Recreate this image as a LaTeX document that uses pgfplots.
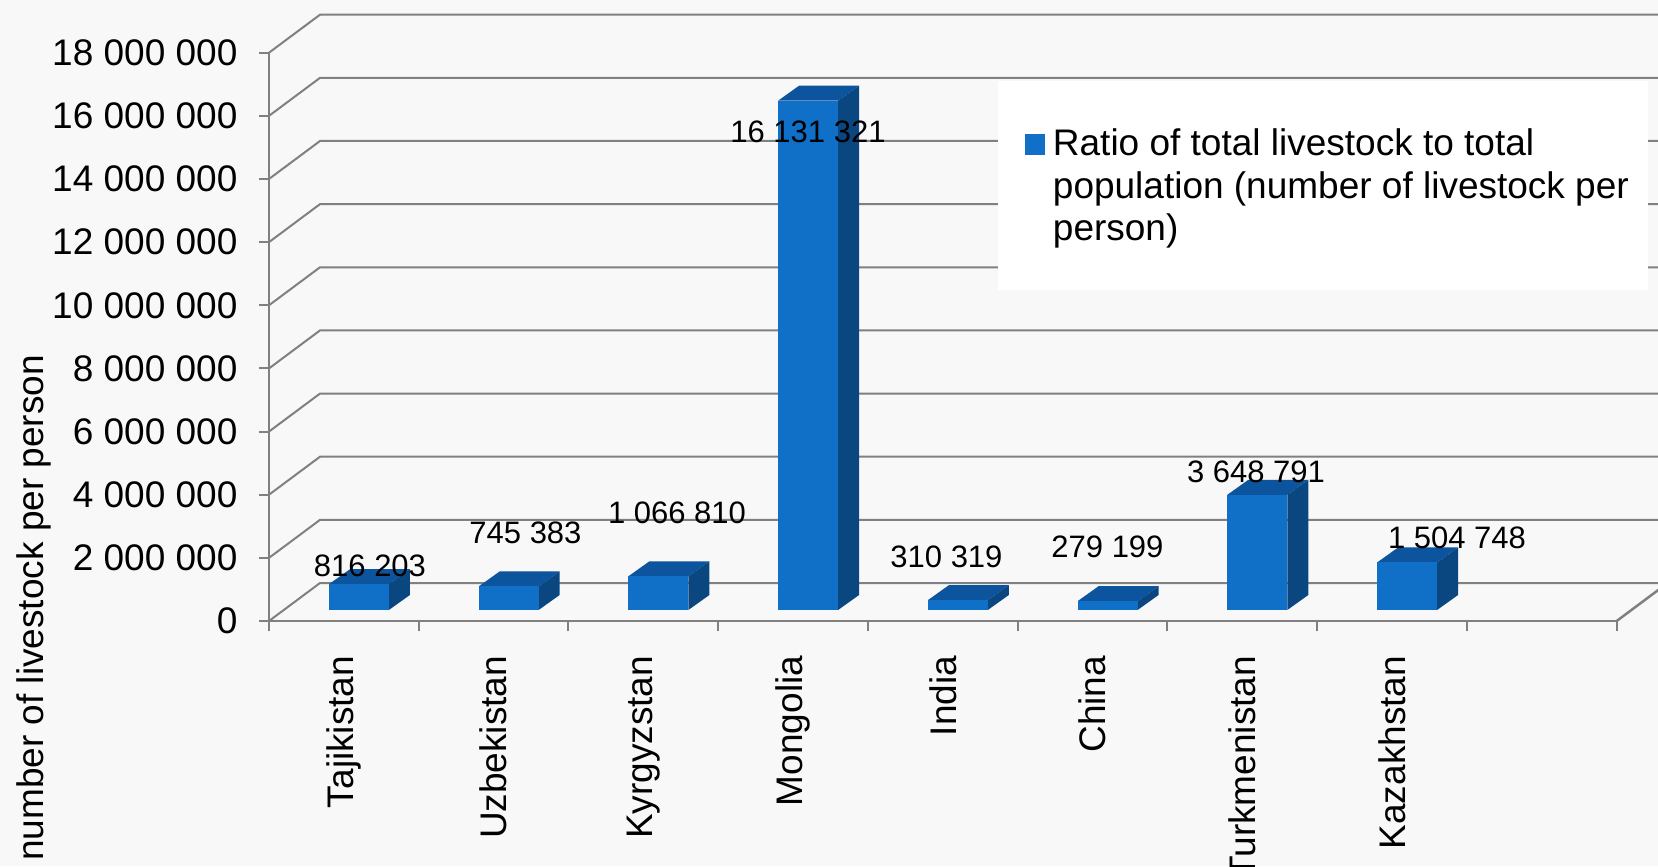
\documentclass[border=0pt]{standalone}
\usepackage{pgfplots}
\pgfplotsset{compat=1.18}
\usepackage{fontspec}
\setmainfont{Liberation Sans}
\definecolor{frontcol}{RGB}{16,111,198}
\definecolor{topcol}{RGB}{12,84,158}
\definecolor{sidecol}{RGB}{10,71,128}
\definecolor{gridcol}{RGB}{128,128,128}
\definecolor{bgcol}{RGB}{248,248,248}

% x: each category slot is 10 units wide; y in millions of livestock per person.
% bar front plane raised 0.3484, depth (1.402, 0.4751)
% #1 x0  #2 x1  #3 x2  #4 x3  #5 top (0.3484+value)  #6 top+depth
\newcommand{\threedbar}[6]{%
  \addplot[fill=topcol, draw=none, forget plot] coordinates {(#1,#5) (#2,#5) (#3,#6) (#4,#6)} --cycle;
  \addplot[fill=sidecol, draw=none, forget plot] coordinates {(#2,0.3484) (#3,0.8235) (#3,#6) (#2,#5)} --cycle;
  \addplot[fill=frontcol, draw=none, forget plot] coordinates {(#1,0.3484) (#2,0.3484) (#2,#5) (#1,#5)} --cycle;
}

\begin{document}
\begin{tikzpicture}
\useasboundingbox (0bp,0bp) rectangle (552.667bp,288.667bp);
\clip (0bp,0bp) rectangle (552.667bp,288.667bp);
\fill[bgcol] (0bp,0bp) rectangle (552.667bp,288.667bp);
\begin{axis}[
  at={(89.667bp,81.667bp)}, anchor=south west,
  scale only axis, width=449.233bp, height=189.433bp,
  xmin=0, xmax=90, ymin=0, ymax=18,
  clip=false,
  axis x line*=bottom, axis y line*=left,
  axis line style={draw=gridcol, line width=0.833bp},
  tick style={draw=gridcol, line width=0.667bp},
  tick align=outside, major tick length=3.333bp,
  xtick={0,10,20,30,40,50,60,70,80,90},
  x tick label as interval,
  xticklabels={Tajikistan,Uzbekistan,Kyrgyzstan,Mongolia,India,China,Turkmenistan,Kazakhstan,{}},
  xticklabel style={yshift=-8.1bp, rotate=90, anchor=east, inner sep=0pt, font=\fontsize{12.38}{14.7}\selectfont},
  ytick={0,2,4,6,8,10,12,14,16,18},
  yticklabels={0,2 000 000,4 000 000,6 000 000,8 000 000,10 000 000,12 000 000,14 000 000,16 000 000,18 000 000},
  yticklabel style={xshift=-7bp, anchor=east, inner sep=0pt, font=\fontsize{12.38}{14.7}\selectfont},
  scaled y ticks=false,
  ylabel={number of livestock per person},
  ylabel style={at={(axis description cs:-0.1745,0.0229)}, anchor=center, inner sep=0pt, font=\fontsize{12.38}{14.7}\selectfont},
  legend style={draw=none, fill=none, inner sep=0pt, at={(axis description cs:0.5607,0.8717)}, anchor=north west,
    font=\fontsize{12.38}{14.22}\selectfont, nodes={inner sep=0pt},
    /tikz/every odd column/.append style={column sep=2.5bp}},
  legend cell align=left,
  gridline/.style={gridcol, line width=0.667bp, forget plot},
]
% back wall and side wall grid lines
\addplot[gridline] coordinates {(0,0) (3.406,1.2036) (97,1.2036)};
\addplot[gridline] coordinates {(0,2) (3.406,3.2036) (97,3.2036)};
\addplot[gridline] coordinates {(0,4) (3.406,5.2036) (97,5.2036)};
\addplot[gridline] coordinates {(0,6) (3.406,7.2036) (97,7.2036)};
\addplot[gridline] coordinates {(0,8) (3.406,9.2036) (97,9.2036)};
\addplot[gridline] coordinates {(0,10) (3.406,11.2036) (97,11.2036)};
\addplot[gridline] coordinates {(0,12) (3.406,13.2036) (97,13.2036)};
\addplot[gridline] coordinates {(0,14) (3.406,15.2036) (97,15.2036)};
\addplot[gridline] coordinates {(0,16) (3.406,17.2036) (97,17.2036)};
\addplot[gridline] coordinates {(0,18) (3.406,19.2036) (97,19.2036)};
\addplot[gridline, line width=0.833bp] coordinates {(90,0) (93.406,1.2036)};
% legend background
\fill[white] (axis description cs:0.5408,0.9502) rectangle (axis description cs:1.0230,0.5824);
% bars: Tajikistan 816 203, Uzbekistan 745 383, Kyrgyzstan 1 066 810, Mongolia 16 131 321,
% India 310 319, China 279 199, Turkmenistan 3 648 791, Kazakhstan 1 504 748
\threedbar{3.999}{8.005}{9.407}{5.401}{1.1646}{1.6397}
\threedbar{13.999}{18.005}{19.407}{15.401}{1.0938}{1.5689}
\threedbar{23.999}{28.005}{29.407}{25.401}{1.4152}{1.8903}
\threedbar{33.999}{38.005}{39.407}{35.401}{16.4797}{16.9548}
\threedbar{43.999}{48.005}{49.407}{45.401}{0.6587}{1.1338}
\threedbar{53.999}{58.005}{59.407}{55.401}{0.6276}{1.1027}
\threedbar{63.999}{68.005}{69.407}{65.401}{3.9972}{4.4723}
\threedbar{73.999}{78.005}{79.407}{75.401}{1.8531}{2.3282}
\addlegendimage{legend image code/.code={\fill[frontcol] (0bp,-3.57bp) rectangle (6.333bp,2.77bp);}}
\addlegendentry{\begin{tabular}[t]{@{}l@{}}Ratio of total livestock to total\\population (number of livestock per\\person)\end{tabular}}
% value labels
\begin{scope}[every node/.style={font=\fontsize{10.37}{12.4}\selectfont, inner sep=0pt, anchor=center}]
\node at (axis cs:6.745,1.742) {816 203};
\node at (axis cs:17.129,2.787) {745 383};
\node at (axis cs:27.247,3.421) {1 066 810};
\node at (axis cs:35.995,15.504) {16 131 321};
\node at (axis cs:45.244,2.027) {310 319};
\node at (axis cs:55.996,2.353) {279 199};
\node at (axis cs:65.914,4.719) {3 648 791};
\node at (axis cs:79.336,2.629) {1 504 748};
\end{scope}
\end{axis}
\end{tikzpicture}
\end{document}
